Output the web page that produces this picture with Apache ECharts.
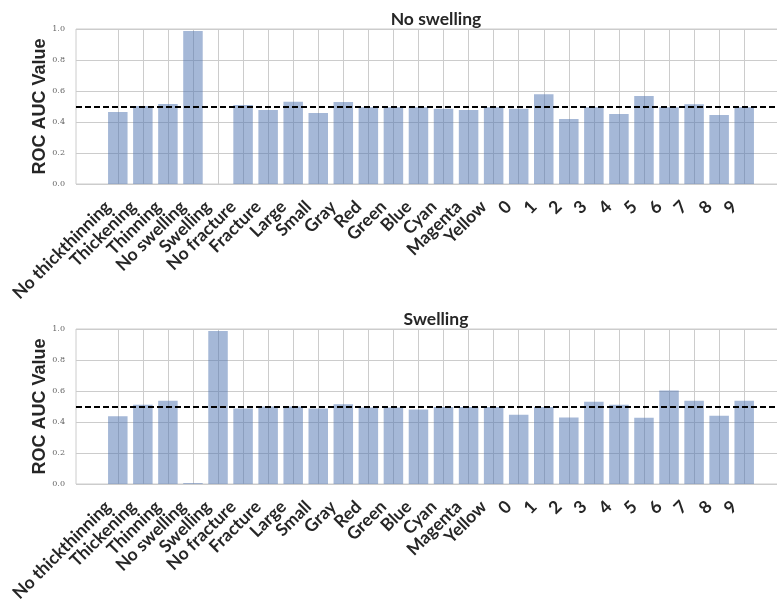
<!DOCTYPE html>
<html>
<head>
<meta charset="utf-8">
<script src="https://cdn.jsdelivr.net/npm/echarts@6/dist/echarts.min.js"></script>
<style>
  html, body { margin: 0; padding: 0; background: #ffffff; }
  #chart { width: 777px; height: 601px; }
</style>
</head>
<body>
<div id="chart"></div>
<script>
// Attribute categories shared by both panels
const categories = [
  'No thickthinning', 'Thickening', 'Thinning', 'No swelling', 'Swelling',
  'No fracture', 'Fracture', 'Large', 'Small', 'Gray', 'Red', 'Green', 'Blue',
  'Cyan', 'Magenta', 'Yellow', '0', '1', '2', '3', '4', '5', '6', '7', '8', '9'
];

// ROC AUC per attribute, "No swelling" target
const noSwellingAuc = [
  0.465, 0.503, 0.516, 0.987, 0.0,
  0.510, 0.477, 0.531, 0.458, 0.529, 0.495, 0.495, 0.495,
  0.486, 0.477, 0.495, 0.486, 0.579, 0.419, 0.495, 0.452, 0.568, 0.495, 0.514, 0.445, 0.495
];

// ROC AUC per attribute, "Swelling" target
const swellingAuc = [
  0.437, 0.511, 0.537, 0.006, 0.987,
  0.487, 0.500, 0.500, 0.487, 0.515, 0.494, 0.494, 0.481,
  0.496, 0.496, 0.496, 0.446, 0.496, 0.429, 0.530, 0.511, 0.427, 0.603, 0.537, 0.440, 0.537
];

const yTicks = [0, 0.2, 0.4, 0.6, 0.8, 1.0];
const chanceLevel = 0.5;

const panels = [
  { title: 'No swelling', values: noSwellingAuc, top: 29 },
  { title: 'Swelling', values: swellingAuc, top: 329 }
];

const FRAME_LEFT = 76, FRAME_WIDTH = 710, PLOT_H = 155;
const BAND_LEFT = 117.8, BAND_WIDTH = 626.4;
const GRID_COLOR = '#cccccc';
const BAR_COLOR = 'rgba(76,114,176,0.5)';

const grid = [], xAxis = [], yAxis = [], series = [], title = [];

panels.forEach((p, k) => {
  const frameIdx = 2 * k, bandIdx = 2 * k + 1;
  // outer frame with the value grid lines
  grid.push({ left: FRAME_LEFT, top: p.top, width: FRAME_WIDTH, height: PLOT_H,
              containLabel: false, outerBoundsMode: 'none',
              show: true, borderColor: GRID_COLOR, borderWidth: 1, backgroundColor: '#ffffff' });
  // inner band holding the category positions
  grid.push({ left: BAND_LEFT, top: p.top, width: BAND_WIDTH, height: PLOT_H,
              containLabel: false, outerBoundsMode: 'none' });

  xAxis.push({ gridIndex: frameIdx, type: 'value', min: 0, max: 1, show: false });
  xAxis.push({
    gridIndex: bandIdx, type: 'category', data: categories, boundaryGap: false,
    axisLine: { show: false }, axisTick: { show: false },
    splitLine: { show: true, lineStyle: { color: GRID_COLOR, width: 1 } },
    axisLabel: {
      interval: 0, rotate: 45, margin: 10, padding: [0, 14, 0, 0],
      fontFamily: 'Lato', fontWeight: 'bold', fontSize: 17.5, color: '#262626'
    }
  });

  yAxis.push({
    gridIndex: frameIdx, type: 'value', min: 0, max: 1, interval: 0.2,
    name: 'ROC AUC Value', nameLocation: 'middle', nameGap: 27, nameMoveOverlap: false,
    nameTextStyle: { fontFamily: 'Liberation Sans', fontWeight: 'bold', fontSize: 18, color: '#262626' },
    axisLine: { show: false }, axisTick: { show: false },
    splitLine: { show: true, lineStyle: { color: GRID_COLOR, width: 1 } },
    axisLabel: {
      margin: 11, fontFamily: 'DejaVu Serif', fontSize: 8, color: '#666666',
      formatter: v => yTicks.includes(Math.round(v * 10) / 10) ? v.toFixed(1) : ''
    }
  });
  yAxis.push({ gridIndex: bandIdx, type: 'value', min: 0, max: 1, show: false });

  series.push({
    type: 'bar', xAxisIndex: bandIdx, yAxisIndex: bandIdx, data: p.values,
    barWidth: 19.5, clip: false, itemStyle: { color: BAR_COLOR }, silent: true
  });
  // chance-level reference line across the full frame
  series.push({
    type: 'line', xAxisIndex: frameIdx, yAxisIndex: frameIdx, data: [], silent: true,
    markLine: {
      symbol: 'none', silent: true, label: { show: false },
      lineStyle: { color: '#000000', width: 1.8, type: [6, 3] },
      data: [[{ coord: [0, chanceLevel] }, { coord: [1, chanceLevel] }]]
    }
  });

  title.push({
    text: p.title, left: FRAME_LEFT + FRAME_WIDTH / 2, top: p.top - 24, textAlign: 'center',
    textStyle: { fontFamily: 'Lato', fontWeight: 'bold', fontSize: 17.5, color: '#262626' }
  });
});

const chart = echarts.init(document.getElementById('chart'), null, { renderer: 'canvas' });
chart.setOption({ animation: false, backgroundColor: '#ffffff', title, grid, xAxis, yAxis, series });
</script>
</body>
</html>
